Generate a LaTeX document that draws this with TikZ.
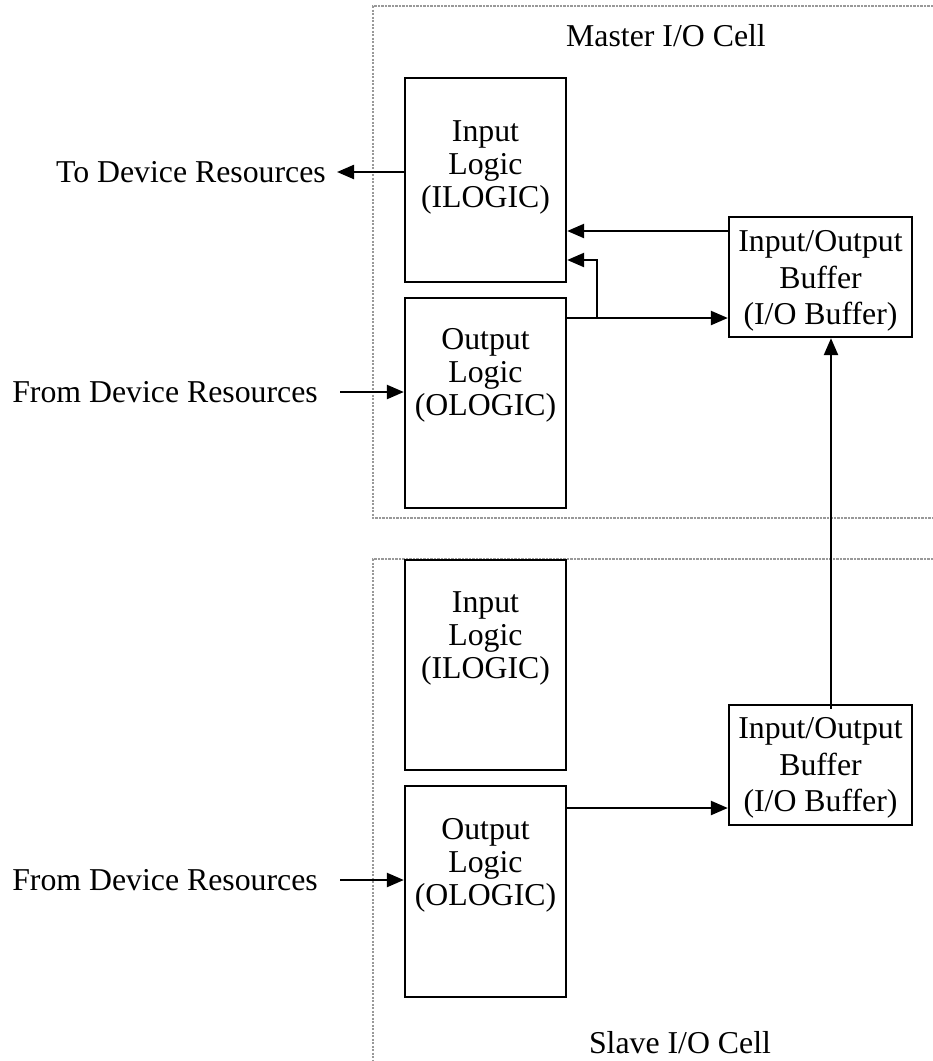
\documentclass[tikz,border=0pt]{standalone}
\usepackage{fontspec}
\setmainfont{Liberation Serif}
\usetikzlibrary{arrows.meta}
\begin{document}
\begin{tikzpicture}[x=1pt,y=-1pt,
  txt/.style={font=\fontsize{31.8}{33}\selectfont, inner sep=0pt, align=center},
  buftxt/.style={font=\fontsize{31.8}{36.5}\selectfont, inner sep=0pt, align=center},
  blk/.style={draw, line width=2.3pt, inner sep=0pt, minimum width=161pt},
  iobuf/.style={draw, line width=2.3pt, inner sep=0pt, minimum width=183pt, minimum height=120pt},
  cell/.style={draw=gray!80, line width=1.3pt, dash pattern=on 2.2pt off 1.3pt},
  arr/.style={line width=2.3pt, -{Triangle[length=17pt,width=14pt]}}]
\useasboundingbox (0,0) rectangle (933,1061);

% I/O cell outlines (open to the right / bottom)
\draw[cell] (933,6) -- (373,6) -- (373,518) -- (933,518);
\draw[cell] (933,559) -- (373,559) -- (373,1061);
\node[txt, anchor=base] (mtitle) at (666,46) {Master I/O Cell};
\node[txt, anchor=base] (stitle) at (680,1053) {Slave I/O Cell};

% master cell blocks
\node[blk, minimum height=204pt] (mil) at (485.5,180) {};
\node[txt] (miltxt) at (485.5,167) {Input\\Logic\\(ILOGIC)};
\node[blk, minimum height=210pt] (mol) at (485.5,403) {};
\node[txt] (moltxt) at (485.5,375) {Output\\Logic\\(OLOGIC)};
\node[iobuf] (mbuf) at (820.5,277) {};
\node[buftxt] (mbuftxt) at (820.5,281) {Input/Output\\Buffer\\(I/O Buffer)};

% slave cell blocks
\node[blk, minimum height=210pt] (sil) at (485.5,665) {};
\node[txt] (siltxt) at (485.5,638) {Input\\Logic\\(ILOGIC)};
\node[blk, minimum height=211pt] (sol) at (485.5,891.5) {};
\node[txt] (soltxt) at (485.5,865) {Output\\Logic\\(OLOGIC)};
\node[iobuf] (sbuf) at (820.5,765) {};
\node[buftxt] (sbuftxt) at (820.5,768) {Input/Output\\Buffer\\(I/O Buffer)};

% device resource labels
\node[txt, anchor=east] (to) at (326,172) {To Device Resources};
\node[txt, anchor=east] (mfrom) at (318,392) {From Device Resources};
\node[txt, anchor=east] (sfrom) at (318,880) {From Device Resources};

% connectors
\coordinate (toend) at (337,172);
\draw[arr] (mil.west |- toend) -- (toend);
\draw[arr] ([xshift=22pt]mfrom.east) -- (mol.west |- mfrom.east);
\draw[arr] ([xshift=22pt]sfrom.east) -- (sol.west |- sfrom.east);

\coordinate (fb) at (0,231);
\draw[arr] (mbuf.west |- fb) -- (mil.east |- fb);
\coordinate (ob) at (0,318);
\coordinate (jn) at (597,318);
\draw[arr] (mol.east |- ob) -- (mbuf.west |- ob);
\draw[arr] (jn) -- (597,260) -- (mil.east |- 0,260);

\coordinate (sb) at (0,808);
\draw[arr] (sol.east |- sb) -- (sbuf.west |- sb);

\coordinate (vx) at (831,0);
\draw[arr] ([yshift=-5pt]sbuf.north -| vx) -- (mbuf.south -| vx);
\end{tikzpicture}
\end{document}
